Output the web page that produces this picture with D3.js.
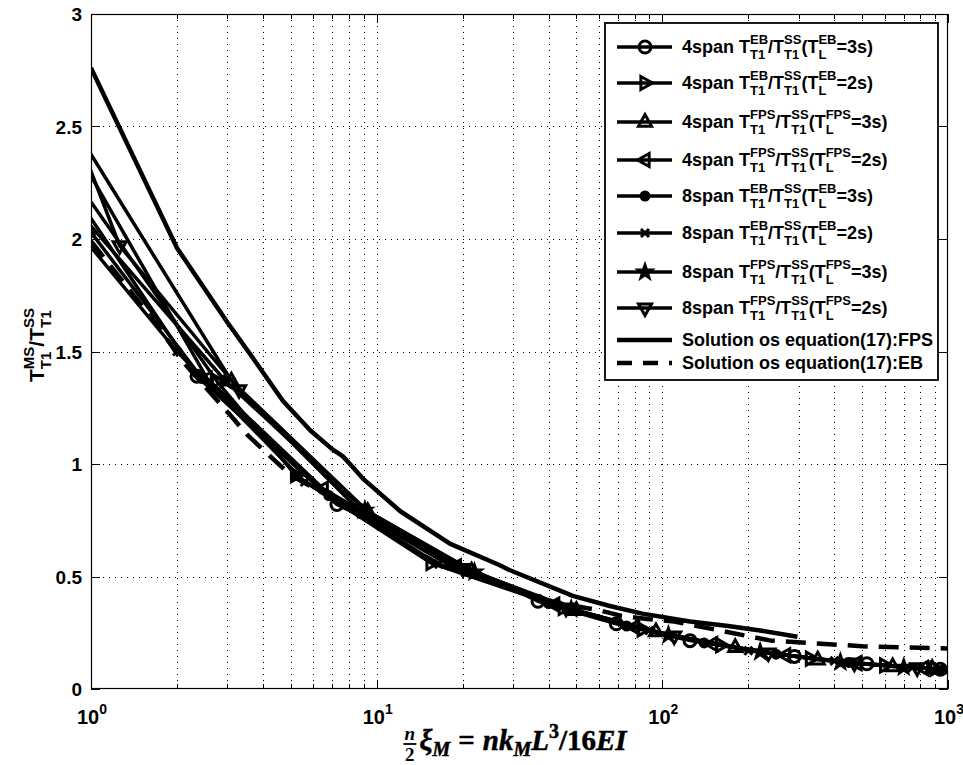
<!DOCTYPE html>
<html>
<head>
<meta charset="utf-8">
<script src="https://cdn.jsdelivr.net/npm/d3@7"></script>
<style>
  body { margin: 0; background: #fff; }
  svg { display: block; }
  text { font-family: "Liberation Sans", Arial, sans-serif; font-weight: bold; fill: #000; }
</style>
</head>
<body>
<svg id="chart" width="963" height="765"></svg>
<script>
// ---- data ----
const s4EB3  = [[0.92,2.16],[2.35,1.39],[7.26,0.82],[36.7,0.39],[69,0.29],[125,0.215],[290,0.145],[520,0.112],[940,0.088]];
const s4EB2  = [[0.92,2.23],[2.75,1.37],[5.2,0.95],[15.5,0.56],[45,0.36],[85,0.265],[160,0.195],[330,0.135],[600,0.105],[900,0.09]];
const s4FPS3 = [[0.92,2.45],[3.1,1.37],[9.3,0.79],[21.5,0.525],[50,0.35],[95,0.255],[180,0.185],[350,0.13],[640,0.1],[880,0.092]];
const s4FPS2 = [[0.92,2.36],[2.55,1.38],[6.5,0.89],[19,0.545],[42,0.375],[80,0.275],[150,0.2],[270,0.15],[480,0.115],[820,0.093]];
const s8EB3  = [[1,2.03],[2.45,1.38],[6.8,0.86],[18,0.55],[40,0.38],[75,0.28],[140,0.205],[250,0.155],[450,0.118],[960,0.085]];
const s8EB2  = [[0.92,2.02],[2.0,1.5],[5.6,0.92],[16.5,0.555],[44,0.365],[90,0.26],[200,0.17],[400,0.125],[750,0.095]];
const s8FPS3 = [[0.92,2.11],[2.95,1.37],[9.1,0.795],[22,0.52],[48,0.355],[105,0.24],[220,0.165],[420,0.12],[700,0.097]];
const s8FPS2 = [[0.92,2.42],[1.26,1.97],[3.3,1.33],[8.6,0.8],[20,0.535],[46,0.36],[110,0.235],[235,0.16],[470,0.115],[780,0.094]];

const solFPS = [[1,2.76],[2,1.96],[3,1.63],[3.6,1.49],[4.7,1.28],[5.85,1.15],[7.0,1.065],[7.6,1.035],[8.2,0.99],[8.95,0.935],
                [12.1,0.79],[18.1,0.645],[27,0.55],[29,0.53],[48.6,0.414],[65,0.37],[85,0.335],[125,0.30],[170,0.28],[220,0.26],[297,0.232]];
const solEB  = [[1,1.99],[1.7,1.62],[2.08,1.46],[3.06,1.22],[3.52,1.13],[5,0.95],[10,0.74],[20,0.53],[40,0.39],
                [60,0.35],[72,0.325],[90,0.31],[110,0.30],[240,0.215],[500,0.19],[1000,0.18]];

const markerSeries = [s4EB3, s4EB2, s4FPS3, s4FPS2, s8EB3, s8EB2, s8FPS3, s8FPS2];
const markerTypes  = ['o', '>', '^', '<', '.', 'x', 'p', 'v'];

// legend labels: [base, superscript, subscript] pieces
const legendLabels = [
  [['4span T','EB','T1'],['/T','SS','T1'],['(T','EB','L'],['=3s)']],
  [['4span T','EB','T1'],['/T','SS','T1'],['(T','EB','L'],['=2s)']],
  [['4span T','FPS','T1'],['/T','SS','T1'],['(T','FPS','L'],['=3s)']],
  [['4span T','FPS','T1'],['/T','SS','T1'],['(T','FPS','L'],['=2s)']],
  [['8span T','EB','T1'],['/T','SS','T1'],['(T','EB','L'],['=3s)']],
  [['8span T','EB','T1'],['/T','SS','T1'],['(T','EB','L'],['=2s)']],
  [['8span T','FPS','T1'],['/T','SS','T1'],['(T','FPS','L'],['=3s)']],
  [['8span T','FPS','T1'],['/T','SS','T1'],['(T','FPS','L'],['=2s)']],
  [['Solution os equation(17):FPS']],
  [['Solution os equation(17):EB']]
];

const xMajor = [1, 10, 100, 1000];
const yTicks = [0, 0.5, 1, 1.5, 2, 2.5, 3];
const yTickLabels = ['0', '0.5', '1', '1.5', '2', '2.5', '3'];

// ---- layout ----
const svg = d3.select('#chart');
const L = 91, R = 948, T = 14, B = 689;
const x = d3.scaleLog().domain([1, 1000]).range([L, R]);
const y = d3.scaleLinear().domain([0, 3]).range([B, T]);

let xMinor = [];
[1, 10, 100].forEach(d => { for (let k = 2; k <= 9; k++) xMinor.push(d * k); });

// helper: text with stacked super/subscripts
function texText(g, parts, size) {
  let cx = 0;
  const small = Math.round(size * 0.7);
  parts.forEach(([b, sp, sb]) => {
    if (b) {
      const t = g.append('text').attr('x', cx).attr('y', 0).attr('font-size', size).text(b);
      cx += t.node().getComputedTextLength();
    }
    let w = 0;
    if (sp) {
      const t = g.append('text').attr('x', cx).attr('y', -size * 0.5).attr('font-size', small).text(sp);
      w = Math.max(w, t.node().getComputedTextLength());
    }
    if (sb) {
      const t = g.append('text').attr('x', cx).attr('y', size * 0.32).attr('font-size', small).text(sb);
      w = Math.max(w, t.node().getComputedTextLength());
    }
    cx += w;
  });
  return cx;
}

// grid
const grid = svg.append('g').attr('stroke', '#000').attr('stroke-width', 1).attr('stroke-dasharray', '1,5');
xMinor.concat([10, 100]).forEach(v => {
  grid.append('line').attr('x1', Math.round(x(v)) + 0.5).attr('x2', Math.round(x(v)) + 0.5).attr('y1', T).attr('y2', B);
});
yTicks.slice(1, -1).forEach(v => {
  grid.append('line').attr('y1', Math.round(y(v)) + 0.5).attr('y2', Math.round(y(v)) + 0.5).attr('x1', L).attr('x2', R);
});

// ticks
const ticks = svg.append('g').attr('stroke', '#000').attr('stroke-width', 1);
xMajor.forEach(v => {
  const px = Math.round(x(v)) + 0.5;
  ticks.append('line').attr('x1', px).attr('x2', px).attr('y1', B).attr('y2', B - 9);
  ticks.append('line').attr('x1', px).attr('x2', px).attr('y1', T).attr('y2', T + 9);
});
xMinor.forEach(v => {
  const px = Math.round(x(v)) + 0.5;
  ticks.append('line').attr('x1', px).attr('x2', px).attr('y1', B).attr('y2', B - 5);
  ticks.append('line').attr('x1', px).attr('x2', px).attr('y1', T).attr('y2', T + 5);
});
yTicks.forEach(v => {
  const py = Math.round(y(v)) + 0.5;
  ticks.append('line').attr('x1', L).attr('x2', L + 9).attr('y1', py).attr('y2', py);
  ticks.append('line').attr('x1', R).attr('x2', R - 9).attr('y1', py).attr('y2', py);
});

// tick labels
yTicks.forEach((v, i) => {
  svg.append('text').attr('x', 82).attr('y', y(v) + 7).attr('text-anchor', 'end')
    .attr('font-size', 19).text(yTickLabels[i]);
});
xMajor.forEach(v => {
  const g = svg.append('g');
  const w = texText(g, [['10', String(Math.round(Math.log10(v))), null]], 20);
  g.attr('transform', `translate(${x(v) - w / 2 + 1},724)`);
});

// markers
function drawMarker(g, type, cx, cy) {
  const sw = 3;
  if (type === 'o') {
    g.append('circle').attr('cx', cx).attr('cy', cy).attr('r', 6).attr('fill', 'none').attr('stroke', '#000').attr('stroke-width', sw);
  } else if (type === '.') {
    g.append('circle').attr('cx', cx).attr('cy', cy).attr('r', 5.5).attr('fill', '#000');
  } else if (type === 'x') {
    const s = 4;
    g.append('path').attr('d', `M${cx - s},${cy - s}L${cx + s},${cy + s}M${cx - s},${cy + s}L${cx + s},${cy - s}`)
      .attr('stroke', '#000').attr('stroke-width', sw);
  } else if (type === 'p') {
    const pts = d3.range(10).map(i => {
      const r = i % 2 ? 3.6 : 9, a = -Math.PI / 2 + i * Math.PI / 5;
      return [cx + r * Math.cos(a), cy + r * Math.sin(a)];
    });
    g.append('path').attr('d', d3.line()(pts) + 'Z').attr('fill', '#000').attr('stroke', '#000').attr('stroke-width', 1.5);
  } else {
    const rot = { '^': 0, '>': 90, 'v': 180, '<': 270 }[type];
    const s = 7.5;
    const pts = [[0, -s], [s * 0.87, s * 0.55], [-s * 0.87, s * 0.55]];
    g.append('path').attr('d', d3.line()(pts) + 'Z')
      .attr('transform', `translate(${cx},${cy}) rotate(${rot})`)
      .attr('fill', 'none').attr('stroke', '#000').attr('stroke-width', sw).attr('stroke-linejoin', 'miter');
  }
}

// clip
svg.append('clipPath').attr('id', 'clip').append('rect').attr('x', L).attr('y', T).attr('width', R - L).attr('height', B - T);
const plot = svg.append('g').attr('clip-path', 'url(#clip)');
const line = d3.line().x(d => x(d[0])).y(d => y(d[1]));

markerSeries.forEach((s, i) => {
  plot.append('path').attr('d', line(s)).attr('fill', 'none').attr('stroke', '#000')
    .attr('stroke-width', 3.5).attr('stroke-linejoin', 'round');
  s.forEach(d => drawMarker(plot, markerTypes[i], x(d[0]), y(d[1])));
});
plot.append('path').attr('d', line(solFPS)).attr('fill', 'none').attr('stroke', '#000')
  .attr('stroke-width', 4.5).attr('stroke-linejoin', 'round');
plot.append('path').attr('d', line(solEB)).attr('fill', 'none').attr('stroke', '#000').attr('stroke-width', 4.5)
  .attr('stroke-dasharray', '20,11');

// box
svg.append('rect').attr('x', L + 0.5).attr('y', T + 0.5).attr('width', R - L - 1).attr('height', B - T - 1)
  .attr('fill', 'none').attr('stroke', '#000').attr('stroke-width', 1.2);

// legend
const legY = [47, 83, 122, 160, 196, 233, 272, 308, 340, 363];
const leg = svg.append('g');
leg.append('rect').attr('x', 605).attr('y', 23).attr('width', 333).attr('height', 357)
  .attr('fill', '#fff').attr('stroke', '#000').attr('stroke-width', 1.8);
legendLabels.forEach((lab, i) => {
  const ly = legY[i];
  const ln = leg.append('line').attr('x1', 617).attr('x2', 672).attr('y1', ly).attr('y2', ly)
    .attr('stroke', '#000').attr('stroke-width', i < 8 ? 3.5 : 4.5);
  if (i === 9) ln.attr('stroke-dasharray', '15,11');
  if (i < 8) drawMarker(leg, markerTypes[i], 645, ly);
  const g = leg.append('g').attr('transform', `translate(682,${ly + 6})`);
  texText(g, lab, 18);
});

// y label
const yl = svg.append('g');
const ylInner = yl.append('g');
const ylw = texText(ylInner, [['T', 'MS', 'T1'], ['/T', 'SS', 'T1']], 21);
ylInner.attr('transform', `translate(${-ylw / 2},0)`);
yl.attr('transform', 'translate(44,345) rotate(-90)');

// x label (TeX style)
const serif = '"Liberation Serif", "DejaVu Serif", serif';
const xl = svg.append('g');
let cx = 0;
function xt(txt, size, dy, italic, gapAfter) {
  const t = xl.append('text').attr('x', cx).attr('y', dy).attr('font-size', size)
    .style('font-family', serif).style('font-style', italic ? 'italic' : 'normal')
    .attr('stroke', '#000').attr('stroke-width', 0.5).text(txt);
  cx += t.node().getComputedTextLength() + (gapAfter || 0);
}
// fraction n/2
xl.append('text').attr('x', 1).attr('y', -10).attr('font-size', 19).style('font-family', serif).style('font-style', 'italic').text('n');
xl.append('line').attr('x1', 0).attr('x2', 13).attr('y1', -6).attr('y2', -6).attr('stroke', '#000').attr('stroke-width', 1.8);
xl.append('text').attr('x', 1.5).attr('y', 11).attr('font-size', 19).style('font-family', serif).text('2');
cx = 16;
xt('ξ', 29, 0, true);
xt('M', 20, 6, true, 8);
xt('=', 29, 0, false, 8);
xt('nk', 29, 0, true);
xt('M', 20, 6, true);
xt('L', 29, 0, true);
xt('3', 20, -12, false);
xt('/16', 29, 0, false);
xt('EI', 29, 0, true);
xl.attr('transform', `translate(${515 - cx / 2},750)`);
</script>
</body>
</html>
